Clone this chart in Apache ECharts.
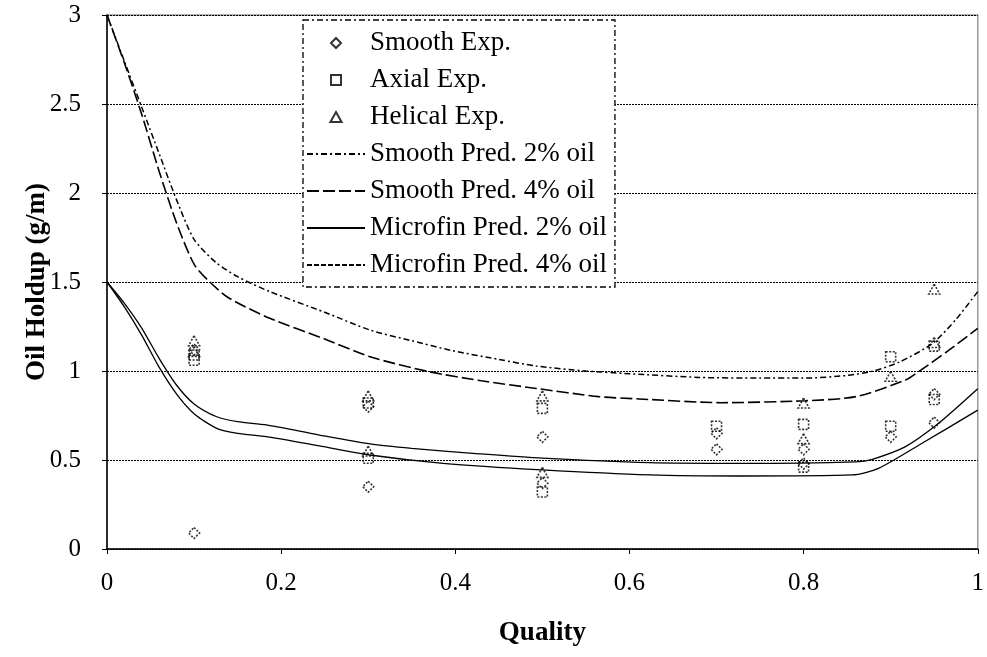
<!DOCTYPE html>
<html>
<head>
<meta charset="utf-8">
<script src="https://cdn.jsdelivr.net/npm/echarts@6/dist/echarts.min.js"></script>
<style>
  html, body { margin: 0; padding: 0; background: #fff; }
  #chart { width: 987px; height: 657px; }
</style>
</head>
<body>
<div id="chart"></div>
<script>
// Measured oil holdup (g/m) against vapour quality, by tube type
const smoothExp  = [[0.1, 0.09], [0.1, 1.12], [0.3, 0.35], [0.3, 0.80], [0.5, 0.63], [0.5, 0.37],
                    [0.7, 0.65], [0.7, 0.56], [0.8, 0.56], [0.8, 0.48], [0.9, 0.63], [0.95, 0.87], [0.95, 0.71]];
const axialExp   = [[0.1, 1.06], [0.1, 1.09], [0.3, 0.82], [0.3, 0.51], [0.5, 0.79], [0.5, 0.32],
                    [0.7, 0.69], [0.8, 0.70], [0.8, 0.46], [0.9, 1.08], [0.9, 0.69], [0.95, 1.14], [0.95, 0.84]];
const helicalExp = [[0.1, 1.17], [0.1, 1.11], [0.3, 0.86], [0.3, 0.55], [0.5, 0.86], [0.5, 0.43],
                    [0.8, 0.82], [0.8, 0.62], [0.9, 0.97], [0.95, 1.46], [0.95, 1.16]];

// Model predictions
const smoothPred2 = [[0, 3.0], [0.02, 2.74], [0.04, 2.48], [0.06, 2.22], [0.08, 1.96], [0.1, 1.74],
                     [0.125, 1.61], [0.15, 1.53], [0.187, 1.446], [0.25, 1.33], [0.302, 1.23], [0.35, 1.17],
                     [0.397, 1.114], [0.45, 1.065], [0.493, 1.028], [0.55, 1.0], [0.6, 0.985], [0.68, 0.964],
                     [0.75, 0.96], [0.8, 0.96], [0.85, 0.975], [0.88, 1.0], [0.91, 1.05], [0.948, 1.155],
                     [0.975, 1.29], [1.0, 1.446]];
const smoothPred4 = [[0, 3.0], [0.02, 2.73], [0.04, 2.44], [0.06, 2.12], [0.08, 1.83], [0.1, 1.6],
                     [0.118, 1.5], [0.14, 1.41], [0.187, 1.296], [0.25, 1.18], [0.302, 1.08],
                     [0.37, 0.996], [0.43, 0.945], [0.493, 0.902], [0.565, 0.856], [0.611, 0.843],
                     [0.706, 0.822], [0.802, 0.833], [0.86, 0.856], [0.917, 0.949], [0.932, 0.996],
                     [0.965, 1.11], [1.0, 1.24]];
const microPred2  = [[0, 1.5], [0.02, 1.36], [0.04, 1.2], [0.06, 1.02], [0.08, 0.87], [0.1, 0.76],
                     [0.126, 0.678], [0.15, 0.65], [0.183, 0.631], [0.244, 0.579], [0.302, 0.528],
                     [0.386, 0.481], [0.5, 0.444], [0.623, 0.416], [0.726, 0.41], [0.856, 0.416],
                     [0.886, 0.453], [0.936, 0.594], [1.0, 0.78]];
const microPred4  = [[0, 1.5], [0.02, 1.38], [0.04, 1.24], [0.06, 1.07], [0.08, 0.92], [0.1, 0.815],
                     [0.126, 0.743], [0.15, 0.715], [0.183, 0.697], [0.244, 0.64], [0.302, 0.59],
                     [0.35, 0.565], [0.424, 0.536], [0.5, 0.51], [0.623, 0.485], [0.726, 0.481],
                     [0.86, 0.49], [0.879, 0.504], [0.917, 0.575], [0.955, 0.706], [1.0, 0.9]];

const FONT = '"Liberation Serif", "Times New Roman", serif';
const DIAMOND  = 'path://M0,-1 L1,0 L0,1 L-1,0 Z';
const SQUARE   = 'path://M-1,-1 L1,-1 L1,1 L-1,1 Z';
const TRIANGLE = 'path://M0,-1 L1,0.8 L-1,0.8 Z';

const markerStyle = {
  color: 'transparent',
  borderColor: '#000',
  borderWidth: 1.6,
  borderType: [2, 1.5]
};

function scatter(name, data, symbol, size) {
  return {
    name, type: 'scatter', data, symbol, symbolSize: size, symbolKeepAspect: true,
    itemStyle: markerStyle, z: 3
  };
}

function line(name, data, type, width) {
  return {
    name, type: 'line', data, showSymbol: false, symbol: 'none',
    smooth: 0.25,
    itemStyle: { color: 'transparent', borderColor: 'transparent', borderWidth: 0 },
    lineStyle: { color: '#000', width, type }, z: 4
  };
}

const chart = echarts.init(document.getElementById('chart'), null, { renderer: 'canvas' });
chart.setOption({
  animation: false,
  backgroundColor: '#fff',
  textStyle: { fontFamily: FONT },
  grid: {
    left: 107, right: 8, top: 15, bottom: 108,
    show: true, borderColor: '#9a9a9a', borderWidth: 1.5
  },
  legend: {
    orient: 'vertical',
    left: 303, top: 20,
    padding: [8, 8, 7, 3],
    itemWidth: 58, itemHeight: 10, itemGap: 7,
    backgroundColor: '#fff',
    borderColor: '#000', borderWidth: 1.3, borderType: [6, 3, 2, 3],
    textStyle: { fontFamily: FONT, fontSize: 27, color: '#000', lineHeight: 30 },
    data: ['Smooth Exp.', 'Axial Exp.', 'Helical Exp.',
           'Smooth Pred. 2% oil', 'Smooth Pred. 4% oil',
           'Microfin Pred. 2% oil',
           { name: 'Microfin Pred. 4% oil', lineStyle: { type: [5, 2] } }]
  },
  xAxis: {
    type: 'value', min: 0, max: 1, interval: 0.2,
    name: 'Quality', nameLocation: 'middle', nameGap: 71, nameMoveOverlap: false,
    nameTextStyle: { fontFamily: FONT, fontSize: 27, fontWeight: 'bold', color: '#000' },
    axisLine: { lineStyle: { color: '#000', width: 1.5 } },
    axisTick: { show: true, length: 5, lineStyle: { color: '#000' } },
    axisLabel: { fontFamily: FONT, fontSize: 25, color: '#000', margin: 22,
                 formatter: v => String(+v.toFixed(1)) },
    splitLine: { show: false }
  },
  yAxis: {
    type: 'value', min: 0, max: 3, interval: 0.5,
    name: 'Oil Holdup (g/m)', nameLocation: 'middle', nameGap: 56, nameRotate: 90,
    nameMoveOverlap: false,
    nameTextStyle: { fontFamily: FONT, fontSize: 27, fontWeight: 'bold', color: '#000' },
    axisLine: { show: true, lineStyle: { color: '#000', width: 1.5 } },
    axisTick: { show: true, length: 5, lineStyle: { color: '#000' } },
    axisLabel: { fontFamily: FONT, fontSize: 25, color: '#000', margin: 26,
                 formatter: v => String(+v.toFixed(1)) },
    splitLine: { show: true, lineStyle: { color: '#000', width: 1, type: [2, 1] } }
  },
  series: [
    scatter('Smooth Exp.', smoothExp, DIAMOND, 11),
    scatter('Axial Exp.', axialExp, SQUARE, 10),
    scatter('Helical Exp.', helicalExp, TRIANGLE, 11),
    line('Smooth Pred. 2% oil', smoothPred2, [6, 3, 2, 3], 1.5),
    line('Smooth Pred. 4% oil', smoothPred4, [12, 4], 1.6),
    line('Microfin Pred. 2% oil', microPred2, 'solid', 1.3),
    line('Microfin Pred. 4% oil', microPred4, 'solid', 1.3)
  ]
});
</script>
</body>
</html>
